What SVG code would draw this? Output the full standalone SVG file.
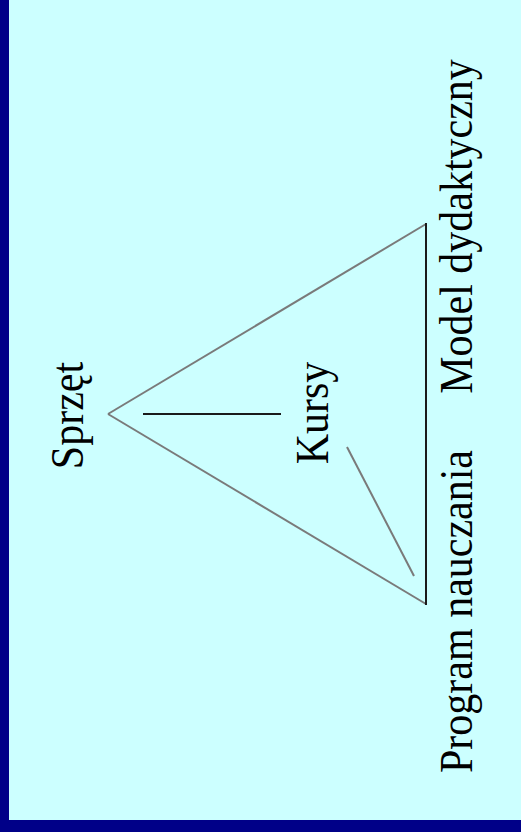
<svg xmlns="http://www.w3.org/2000/svg" width="521" height="832" viewBox="0 0 521 832">
<style>
.lbl{font-family:"Liberation Serif","Times New Roman",serif;font-size:42px;fill:#000;text-anchor:middle}
.gray{stroke:#7a7a7a;stroke-width:2;fill:none}
.dark{stroke:#1a1a1a;stroke-width:2;fill:none}
</style>
<rect x="0" y="0" width="521" height="832" fill="#CCFFFF"/>
<rect x="0" y="0" width="9" height="832" fill="#000088"/>
<rect x="0" y="820" width="521" height="12" fill="#000088"/>
<g id="connectors">
<line class="gray" x1="108" y1="414" x2="426" y2="224"/>
<line class="gray" x1="108" y1="414" x2="426" y2="604"/>
<line class="dark" x1="426" y1="223" x2="426" y2="605"/>
<line class="dark" x1="143" y1="414" x2="281" y2="414"/>
<line class="gray" x1="347" y1="447" x2="414" y2="576"/>
</g>
<g id="sprzet"><text class="lbl" transform="translate(83,415.5) rotate(-90) scale(1,1.08)">Sprzęt</text></g>
<g id="kursy"><text class="lbl" transform="translate(328,413) rotate(-90) scale(1,1.08)">Kursy</text></g>
<g id="model"><text class="lbl" transform="translate(472,226.5) rotate(-90) scale(1,1.08)">Model dydaktyczny</text></g>
<g id="program"><text class="lbl" transform="translate(472,611.5) rotate(-90) scale(1,1.08)">Program nauczania</text></g>
</svg>
